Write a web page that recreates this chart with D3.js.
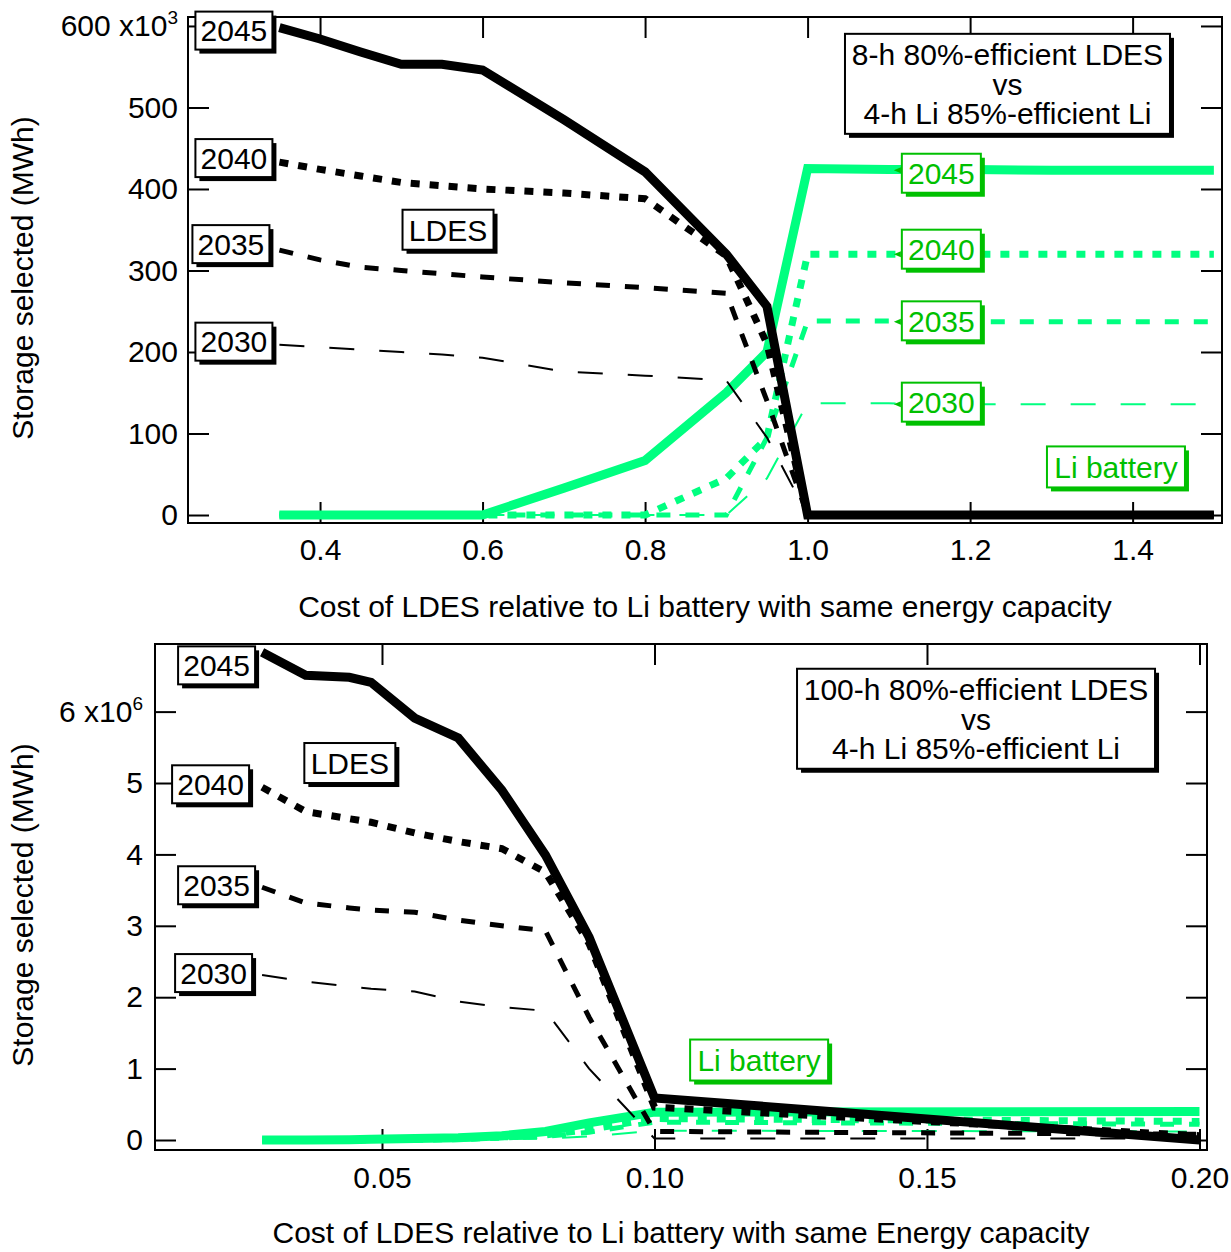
<!DOCTYPE html>
<html>
<head>
<meta charset="utf-8">
<script src="https://cdn.jsdelivr.net/npm/d3@7"></script>
<style>
  body { margin: 0; background: #fff; }
  svg { display: block; }
  text { font-family: "Liberation Sans", Arial, Helvetica, sans-serif; }
</style>
</head>
<body>
<svg id="chart" width="1231" height="1252"></svg>
<script>
// ---------- Panel A: 8-h LDES vs 4-h Li (storage in MWh) ----------
const costA = [0.35, 0.40, 0.45, 0.50, 0.55, 0.60, 0.70, 0.80, 0.90, 0.95, 1.00, 1.10, 1.20, 1.30, 1.40, 1.50];
const ldesA2045 = [598, 584, 568, 553, 553, 546, 485, 421, 320, 256, 0, 0, 0, 0, 0, 0];
const ldesA2040 = [433, 424, 416, 408, 404, 400, 395, 388, 318, 210, 0, 0, 0, 0, 0, 0];
const ldesA2035 = [325, 313, 304, 300, 296, 292, 285, 279, 272, 140, 0, 0, 0, 0, 0, 0];
const ldesA2030 = [209, 206, 203, 200, 197, 193, 176, 171, 165, 95, 0, 0, 0, 0, 0, 0];
const liA2045 = [0, 0, 0, 0, 0, 0, 33, 67, 150, 200, 425, 424, 424, 423, 423, 423];
const liA2040 = [0, 0, 0, 0, 0, 0, 0, 0, 45, 95, 320, 320, 320, 320, 320, 320];
const liA2035 = [0, 0, 0, 0, 0, 0, 0, 0, 0, 95, 238, 238, 237, 237, 237, 237];
const liA2030 = [0, 0, 0, 0, 0, 0, 0, 0, 0, 45, 137, 137, 136, 136, 136, 136];
const yTicksA = [0, 100, 200, 300, 400, 500, 600];
const xTicksA = [0.4, 0.6, 0.8, 1.0, 1.2, 1.4];

// ---------- Panel B: 100-h LDES vs 4-h Li (storage in 10^6 MWh) ----------
const costB = [0.028, 0.036, 0.044, 0.048, 0.056, 0.064, 0.072, 0.080, 0.088, 0.100, 0.200];
const ldesB2045 = [6.83, 6.51, 6.48, 6.41, 5.91, 5.63, 4.90, 3.99, 2.84, 0.59, 0.00];
const ldesB2040 = [4.94, 4.60, 4.50, 4.45, 4.30, 4.18, 4.08, 3.75, 2.75, 0.46, 0.06];
const ldesB2035 = [3.54, 3.32, 3.25, 3.22, 3.19, 3.08, 3.00, 2.93, 1.72, 0.12, 0.08];
const ldesB2030 = [2.31, 2.22, 2.15, 2.12, 2.08, 1.94, 1.86, 1.81, 1.00, 0.02, 0.02];
const liB2045 = [0, 0, 0.005, 0.01, 0.02, 0.03, 0.06, 0.12, 0.24, 0.39, 0.40];
const liB2040 = [0, 0, 0, 0.005, 0.01, 0.02, 0.04, 0.07, 0.15, 0.30, 0.26];
const liB2035 = [0, 0, 0, 0, 0.005, 0.01, 0.03, 0.05, 0.11, 0.25, 0.22];
const liB2030 = [0, 0, 0, 0, 0, 0.005, 0.01, 0.02, 0.05, 0.13, 0.12];
const yTicksB = [0, 1, 2, 3, 4, 5, 6];
const xTicksB = [0.05, 0.10, 0.15, 0.20];

const years = ["2045", "2040", "2035", "2030"];

// ---------- styling ----------
const FONT = 30;
const BLACK = "#000";
const LI_LINE = "#00ff80";
const LI_TEXT = "#00c000";
const yearStyle = {
  "2045": { width: 9, dash: null },
  "2040": { width: 7, dash: "9,10" },
  "2035": { width: 5, dash: "14,15" },
  "2030": { width: 2, dash: "25,25" }
};

const svg = d3.select("#chart");

// Framed box with a solid drop shadow, centred on (cx, cy); lines of text inside.
function tagBox(g, cx, cy, lines, color, opts = {}) {
  const lh = opts.lineHeight || 29.5;
  const padX = opts.padX || 6;
  const padY = opts.padY || 4;
  const grp = g.append("g");
  const txt = grp.append("text")
    .attr("text-anchor", "middle")
    .attr("font-size", FONT)
    .attr("fill", color);
  lines.forEach((s, i) => {
    txt.append("tspan")
      .attr("x", cx)
      .attr("y", cy + (i - (lines.length - 1) / 2) * lh + FONT * 0.36)
      .text(s);
  });
  const bb = txt.node().getBBox();
  const w = (opts.width || bb.width + 2 * padX);
  const h = (opts.height || lines.length * lh + 2 * padY + 2);
  const x0 = cx - w / 2, y0 = cy - h / 2;
  grp.insert("rect", "text")
    .attr("x", x0 + 4).attr("y", y0 + 4).attr("width", w).attr("height", h)
    .attr("fill", color);
  grp.insert("rect", "text")
    .attr("x", x0).attr("y", y0).attr("width", w).attr("height", h)
    .attr("fill", "#fff").attr("stroke", color).attr("stroke-width", 2);
  return { x0, y0, w, h };
}

function drawPanel(p) {
  const x = d3.scaleLinear().domain(p.xDomain).range([p.left, p.right]);
  const y = d3.scaleLinear().domain(p.yDomain).range([p.bottom, p.top]);
  const g = svg.append("g");

  // ticks on all four sides, pointing inward
  const styleAxis = sel => {
    sel.select(".domain").remove();
    sel.selectAll(".tick line").attr("stroke", "#000").attr("stroke-width", 2);
    sel.selectAll(".tick text")
      .attr("font-size", FONT)
      .attr("font-family", "'Liberation Sans', Arial, Helvetica, sans-serif")
      .attr("fill", "#000");
  };
  const axL = g.append("g").attr("transform", `translate(${p.left},0)`)
    .call(d3.axisLeft(y).tickValues(p.yTicks).tickSizeInner(-21).tickSizeOuter(0)
      .tickPadding(p.yPad).tickFormat(d3.format("d")))
    .call(styleAxis);
  axL.attr("font-size", null).attr("font-family", null);
  g.append("g").attr("transform", `translate(${p.right},0)`)
    .call(d3.axisRight(y).tickValues(p.yTicks).tickSizeInner(-21).tickSizeOuter(0).tickFormat(""))
    .call(styleAxis);
  const axB = g.append("g").attr("transform", `translate(0,${p.bottom})`)
    .call(d3.axisBottom(x).tickValues(p.xTicks).tickSizeInner(-21).tickSizeOuter(0)
      .tickPadding(p.xPad).tickFormat(d3.format(p.xFmt)))
    .call(styleAxis);
  axB.attr("font-size", null).attr("font-family", null);
  g.append("g").attr("transform", `translate(0,${p.top})`)
    .call(d3.axisTop(x).tickValues(p.xTicks).tickSizeInner(-21).tickSizeOuter(0).tickFormat(""))
    .call(styleAxis);

  // exponent on the top y label
  axL.selectAll(".tick text").filter(d => d === p.yTicks[p.yTicks.length - 1])
    .each(function (d) {
      const t = d3.select(this);
      t.text(null);
      t.append("tspan").text(`${d} x10`);
      t.append("tspan").attr("dy", -12).attr("font-size", 19).text(p.exponent);
    });

  // frame
  g.append("rect")
    .attr("x", p.left).attr("y", p.top)
    .attr("width", p.right - p.left).attr("height", p.bottom - p.top)
    .attr("fill", "none").attr("stroke", "#000").attr("stroke-width", 2);

  // axis titles
  g.append("text")
    .attr("x", (p.left + p.right) / 2).attr("y", p.xTitleY)
    .attr("text-anchor", "middle").attr("font-size", FONT)
    .text(p.xTitle);
  g.append("text")
    .attr("transform", `translate(${p.yTitleX},${p.yTitleY}) rotate(-90)`)
    .attr("text-anchor", "middle").attr("font-size", FONT)
    .text("Storage selected (MWh)");

  const line = d3.line().x(d => x(d[0])).y(d => y(d[1]));
  const draw = (vals, year, color) => {
    const st = yearStyle[year];
    g.append("path")
      .datum(p.cost.map((c, i) => [c, vals[i]]))
      .attr("d", line)
      .attr("fill", "none")
      .attr("stroke", color)
      .attr("stroke-width", st.width)
      .attr("stroke-dasharray", st.dash)
      .attr("stroke-linejoin", "miter")
      .attr("stroke-miterlimit", 4)
      .attr("stroke-linecap", "butt");
  };
  // Li battery lines underneath, LDES lines on top
  ["2030", "2035", "2040", "2045"].forEach(yr => draw(p.li[yr], yr, LI_LINE));
  ["2030", "2035", "2040", "2045"].forEach(yr => draw(p.ldes[yr], yr, BLACK));

  // year tags at the start of each LDES curve
  years.forEach(yr => {
    const o = p.ldesTagOffset[yr];
    const v = p.ldes[yr][0];
    const px = x(p.cost[0]) - 7 + o[0];
    const bw = 77;
    tagBox(g, px - bw / 2, y(v) + o[1], [yr], BLACK, { width: bw, height: 38 });
  });

  // year tags along the Li battery plateaus
  if (p.liTagX !== null) {
    years.forEach(yr => {
      const vals = p.li[yr];
      const v = vals[vals.length - 1];
      const cy = y(v) + p.liTagOffset[yr];
      const bw = 79;
      const left = x(p.liTagX);
      tagBox(g, left + bw / 2, cy, [yr], LI_TEXT, { width: bw, height: 39 });
      g.append("path")
        .attr("d", `M${left - 8},${y(v)} L${left - 1},${y(v) - 3} L${left - 1},${y(v) + 3} Z`)
        .attr("fill", LI_TEXT);
    });
  }

  // other annotations
  tagBox(g, x(p.ldesNote[0]), y(p.ldesNote[1]), ["LDES"], BLACK, { width: 91, height: 40 });
  tagBox(g, x(p.liNote[0]), y(p.liNote[1]), ["Li battery"], LI_TEXT, { width: 138, height: 41 });
  tagBox(g, x(p.caseNote[0]), y(p.caseNote[1]), p.caseLines, BLACK,
    { width: p.caseWidth, height: 100, lineHeight: 29.5 });
}

drawPanel({
  left: 188, right: 1222, top: 17, bottom: 523,
  xDomain: [0.2375, 1.51], yDomain: [-9.8, 611],
  xTicks: xTicksA, yTicks: yTicksA, xFmt: ".1f", exponent: "3",
  yPad: 10, xPad: 16,
  xTitle: "Cost of LDES relative to Li battery with same energy capacity",
  xTitleY: 617, yTitleX: 33, yTitleY: 278,
  cost: costA,
  ldes: { "2045": ldesA2045, "2040": ldesA2040, "2035": ldesA2035, "2030": ldesA2030 },
  li: { "2045": liA2045, "2040": liA2040, "2035": liA2035, "2030": liA2030 },
  ldesTagOffset: { "2045": [0, 3], "2040": [0, -4], "2035": [-3, -6], "2030": [0, -3] },
  liTagX: 1.116,
  liTagOffset: { "2045": 3, "2040": -5, "2035": -1, "2030": -2 },
  ldesNote: [0.5575, 350],
  liNote: [1.3795, 59],
  caseNote: [1.246, 529],
  caseLines: ["8-h 80%-efficient LDES", "vs", "4-h Li 85%-efficient Li"],
  caseWidth: 325
});

drawPanel({
  left: 155, right: 1207, top: 644, bottom: 1150,
  xDomain: [0.00835, 0.20138], yDomain: [-0.14, 6.947],
  xTicks: xTicksB, yTicks: yTicksB, xFmt: ".2f", exponent: "6",
  yPad: 12, xPad: 17,
  xTitle: "Cost of LDES relative to Li battery with same Energy capacity",
  xTitleY: 1243, yTitleX: 33, yTitleY: 905,
  cost: costB,
  ldes: { "2045": ldesB2045, "2040": ldesB2040, "2035": ldesB2035, "2030": ldesB2030 },
  li: { "2045": liB2045, "2040": liB2040, "2035": liB2035, "2030": liB2030 },
  ldesTagOffset: { "2045": [0, 13], "2040": [-6, -3], "2035": [0, -2], "2030": [-3, -2] },
  liTagX: null,
  liTagOffset: null,
  ldesNote: [0.0441, 5.28],
  liNote: [0.1192, 1.12],
  caseNote: [0.159, 5.90],
  caseLines: ["100-h 80%-efficient LDES", "vs", "4-h Li 85%-efficient Li"],
  caseWidth: 358
});
</script>
</body>
</html>
